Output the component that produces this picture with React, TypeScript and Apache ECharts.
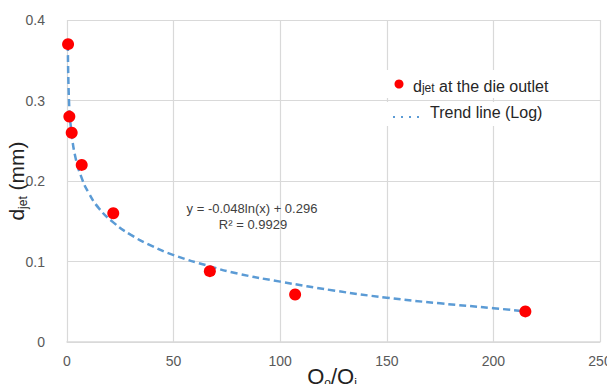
import React, { useEffect, useRef } from "react";
import * as echarts from "echarts";

const ratioQ = [0.5, 1.1, 2.2, 6.9, 21.7, 67, 107, 215];
const djet = [0.37, 0.28, 0.26, 0.22, 0.16, 0.088, 0.059, 0.038];

const trendX = [0.4, 1, 2, 4, 7, 10, 15, 22, 30, 40, 50, 67, 80, 100, 125, 150, 175, 200, 215];
const trendY = [0.37, 0.295, 0.263, 0.229, 0.203, 0.186, 0.166, 0.148, 0.133, 0.119, 0.108, 0.094, 0.085, 0.075, 0.064, 0.055, 0.048, 0.042, 0.038];

const xTicks = { min: 0, max: 250, interval: 50 };
const yTicks = { min: 0, max: 0.4, interval: 0.1 };

const FONT = "Liberation Sans";

export default function App() {
  const ref = useRef<HTMLDivElement>(null);
  useEffect(() => {
    if (!ref.current) return;
    const chart = echarts.init(ref.current, null, { renderer: "svg" });
    const nameRich = {
      b: { fontSize: 21, fill: "#222", fontFamily: FONT, lineHeight: 26, verticalAlign: "middle" },
      s: { fontSize: 12, fill: "#222", fontFamily: FONT, lineHeight: 12, verticalAlign: "bottom" },
    };
    chart.setOption({
      animation: false,
      textStyle: { fontFamily: FONT },
      grid: { left: 67, right: 15, top: 20, bottom: 50, containLabel: false, outerBoundsMode: "none" },
      xAxis: {
        type: "value",
        ...xTicks,
        axisLine: { show: true, lineStyle: { color: "#d9d9d9", width: 1.5 } },
        axisTick: { show: false },
        splitLine: { show: true, lineStyle: { color: "#d9d9d9", width: 1.2 } },
        axisLabel: { fontSize: 14, color: "#595959", margin: 12, fontFamily: FONT },
      },
      yAxis: {
        type: "value",
        ...yTicks,
        axisLine: { show: false },
        axisTick: { show: false },
        splitLine: { show: true, lineStyle: { color: "#d9d9d9", width: 1.2 } },
        axisLabel: { fontSize: 14, color: "#595959", margin: 22, fontFamily: FONT },
      },
      series: [
        {
          type: "line",
          name: "Trend line (Log)",
          data: trendX.map((x, i) => [x, trendY[i]]),
          smooth: true,
          showSymbol: false,
          symbol: "none",
          lineStyle: { color: "#5b9bd5", width: 2.5, type: [7, 4] },
          z: 2,
        },
        {
          type: "scatter",
          name: "djet at the die outlet",
          data: ratioQ.map((x, i) => [x, djet[i]]),
          symbolSize: 12,
          itemStyle: { color: "#ff0000", opacity: 1 },
          z: 3,
        },
      ],
      graphic: [
        {
          type: "text",
          x: 16,
          y: 181,
          rotation: Math.PI / 2,
          z: 11,
          style: {
            text: "{b|d}{s|jet}{b| (mm)}",
            align: "center",
            verticalAlign: "middle",
            fontFamily: FONT,
            rich: nameRich,
          },
        },
        {
          type: "text",
          x: 332,
          y: 376,
          z: 11,
          style: {
            text: "{b|Q}{s|o}{b|/Q}{s|i}",
            align: "center",
            verticalAlign: "middle",
            fontFamily: FONT,
            rich: {
              b: { ...nameRich.b, fontSize: 22 },
              s: nameRich.s,
            },
          },
        },
        { type: "rect", shape: { x: 385, y: 70, width: 213, height: 28 }, style: { fill: "#ffffff" }, z: 10 },
        { type: "rect", shape: { x: 385, y: 102, width: 213, height: 24 }, style: { fill: "#ffffff" }, z: 10 },
        { type: "circle", shape: { cx: 399, cy: 84, r: 4.5 }, style: { fill: "#ff0000" }, z: 11 },
        {
          type: "text",
          x: 413,
          y: 84,
          z: 11,
          style: {
            text: "{s|d}{j|jet}{s| at the die outlet}",
            verticalAlign: "middle",
            fontFamily: FONT,
            rich: {
              s: { fontSize: 16, fill: "#262626", fontFamily: FONT, verticalAlign: "bottom", lineHeight: 20 },
              j: { fontSize: 12, fill: "#262626", fontFamily: FONT, verticalAlign: "bottom", lineHeight: 16 },
            },
          },
        },
        {
          type: "line",
          shape: { x1: 393, y1: 117, x2: 421, y2: 117 },
          style: { stroke: "#5b9bd5", lineWidth: 2, lineDash: [2, 6] },
          z: 11,
        },
        {
          type: "text",
          x: 430,
          y: 112,
          z: 11,
          style: { text: "Trend line (Log)", fontSize: 16, fill: "#262626", fontFamily: FONT, verticalAlign: "middle" },
        },
        {
          type: "text",
          x: 252,
          y: 208,
          z: 11,
          style: { text: "y = -0.048ln(x) + 0.296", fontSize: 13, fill: "#404040", fontFamily: FONT, align: "center", verticalAlign: "middle" },
        },
        {
          type: "text",
          x: 253,
          y: 224,
          z: 11,
          style: { text: "R² = 0.9929", fontSize: 13, fill: "#404040", fontFamily: FONT, align: "center", verticalAlign: "middle" },
        },
      ],
    });
    return () => chart.dispose();
  }, []);
  return <div ref={ref} style={{ width: 615, height: 392, margin: -8, background: "#fff" }} />;
}
